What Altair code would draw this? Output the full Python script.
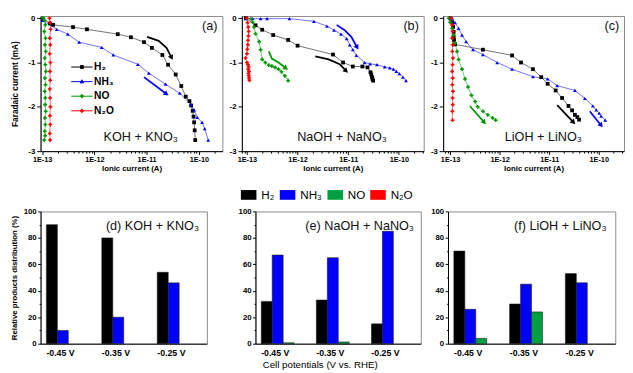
import altair as alt
import pandas as pd

FONT = "Liberation Sans"
PRODUCTS = ["H₂", "NH₃", "NO", "N₂O"]
SERIES_COLORS = ["#000000", "#0000ff", "#009900", "#ff0000"]
BAR_COLORS = ["#000000", "#0000ff", "#00a040", "#ff0000"]
MARKERS = ["square", "triangle-up", "cross", "cross"]
POTENTIALS = ["-0.45 V", "-0.35 V", "-0.25 V"]

# ---------------- (a) KOH + KNO3 : ionic current (A) / faradaic current (mA)
a_h2_I = [1.05e-13, 1.41e-13, 1.62e-13, 3.9e-13, 7.2e-13, 2.8e-12, 5.0e-12, 8.9e-12, 1.26e-11, 2.0e-11,
          2.57e-11, 3.6e-11, 4.6e-11, 5.6e-11, 6.6e-11, 7.1e-11, 7.6e-11, 7.9e-11, 8.1e-11, 8.3e-11, 8.5e-11]
a_h2_J = [-0.02, -0.12, -0.15, -0.20, -0.25, -0.36, -0.43, -0.54, -0.67, -0.83,
          -1.05, -1.27, -1.53, -1.77, -1.87, -1.97, -2.09, -2.22, -2.35, -2.53, -2.75]
a_nh3_I = [1.03e-13, 1.9e-13, 3.1e-13, 5.1e-13, 1.38e-12, 2.3e-12, 6.8e-12, 1.1e-11, 2.3e-11, 4.3e-11,
           7.1e-11, 8.1e-11, 9.3e-11, 1.15e-10, 1.29e-10, 1.51e-10]
a_nh3_J = [-0.05, -0.25, -0.36, -0.54, -0.66, -0.83, -1.04, -1.24, -1.49, -1.69,
           -1.95, -2.07, -2.24, -2.35, -2.49, -2.75]
a_no_I = [1.05e-13, 1.12e-13, 1.15e-13, 1.10e-13, 1.16e-13, 1.13e-13, 1.17e-13, 1.12e-13, 1.15e-13, 1.18e-13,
          1.13e-13, 1.16e-13, 1.12e-13, 1.15e-13, 1.14e-13, 1.17e-13, 1.13e-13, 1.15e-13, 1.12e-13, 1.14e-13, 1.10e-13]
a_no_J = [0.0, -0.05, -0.15, -0.30, -0.45, -0.60, -0.75, -0.90, -1.05, -1.20,
          -1.35, -1.50, -1.65, -1.80, -1.95, -2.10, -2.25, -2.40, -2.55, -2.65, -2.75]
a_n2o_I = [1.38e-13, 1.42e-13, 1.45e-13, 1.40e-13, 1.43e-13, 1.39e-13, 1.44e-13, 1.41e-13,
           1.43e-13, 1.40e-13, 1.42e-13, 1.44e-13, 1.41e-13, 1.43e-13, 1.40e-13, 1.42e-13]
a_n2o_J = [0.0, -0.1, -0.25, -0.45, -0.6, -0.8, -1.0, -1.2, -1.4, -1.6, -1.8, -2.0, -2.2, -2.4, -2.6, -2.75]

# ---------------- (b) NaOH + NaNO3
b_h2_I = [9.5e-14, 1.48e-13, 2.0e-13, 3.3e-13, 6.5e-13, 1.0e-12, 5.0e-12, 7.9e-12, 1.23e-11, 1.9e-11,
          2.4e-11, 2.75e-11, 2.85e-11, 2.95e-11, 3.0e-11, 3.1e-11]
b_h2_J = [0.0, -0.16, -0.26, -0.38, -0.49, -0.62, -0.82, -1.0, -1.09, -1.09,
          -1.11, -1.22, -1.27, -1.33, -1.37, -1.41]
b_nh3_I = [9.5e-14, 1.29e-13, 1.86e-13, 2.5e-13, 6.9e-13, 2.1e-12, 3.8e-12, 5.25e-12, 7.2e-12, 9.3e-12,
           1.07e-11, 1.23e-11, 1.45e-11, 2.1e-11, 2.7e-11, 3.7e-11, 5.25e-11, 6.6e-11, 7.8e-11, 8.9e-11,
           1.02e-10, 1.2e-10, 1.38e-10]
b_nh3_J = [-0.01, -0.01, -0.01, -0.01, -0.01, -0.07, -0.18, -0.27, -0.36, -0.46,
           -0.60, -0.71, -0.84, -1.0, -1.03, -1.05, -1.10, -1.12, -1.15, -1.20,
           -1.25, -1.33, -1.41]
b_no_I = [1.2e-13, 1.29e-13, 1.38e-13, 1.48e-13, 1.74e-13, 1.86e-13, 2.0e-13, 2.3e-13, 2.7e-13, 3.1e-13,
          3.6e-13, 4.2e-13, 4.8e-13, 5.6e-13, 6.5e-13]
b_no_J = [-0.01, -0.09, -0.2, -0.35, -0.53, -0.71, -0.93, -1.0, -1.06, -1.08,
          -1.11, -1.15, -1.21, -1.3, -1.41]
b_n2o_I = [1.0e-13, 1.03e-13, 1.06e-13, 1.08e-13, 1.07e-13, 1.05e-13, 1.04e-13, 1.02e-13, 1.0e-13, 9.4e-14,
           1.0e-13, 1.05e-13, 1.08e-13, 1.06e-13, 1.1e-13, 1.07e-13, 1.09e-13, 1.1e-13, 1.12e-13]
b_n2o_J = [0.0, -0.1, -0.2, -0.3, -0.4, -0.5, -0.6, -0.7, -0.8, -0.9,
           -1.0, -1.05, -1.1, -1.15, -1.2, -1.25, -1.3, -1.35, -1.4]

# ---------------- (c) LiOH + LiNO3
c_h2_I = [1.0e-13, 1.1e-13, 1.15e-13, 1.18e-13, 1.18e-13, 1.2e-13, 1.26e-13, 4.6e-13, 1.78e-12, 2.7e-12,
          4.7e-12, 6.9e-12, 9.3e-12, 1.35e-11, 1.82e-11, 2.45e-11, 2.9e-11, 3.3e-11, 3.7e-11, 4.0e-11]
c_h2_J = [0.0, -0.09, -0.2, -0.31, -0.42, -0.49, -0.59, -0.71, -0.84, -1.0,
          -1.15, -1.33, -1.48, -1.63, -1.8, -1.98, -2.08, -2.18, -2.23, -2.29]
c_nh3_I = [1.1e-13, 1.26e-13, 1.48e-13, 1.74e-13, 2.1e-13, 2.9e-13, 4.6e-13, 8.9e-13, 1.78e-12, 4.7e-12,
           9.3e-12, 1.45e-11, 3.3e-11, 5.25e-11, 7.6e-11, 8.9e-11, 1.02e-10, 1.12e-10, 1.35e-10]
c_nh3_J = [0.0, -0.1, -0.23, -0.38, -0.53, -0.71, -0.82, -1.0, -1.15, -1.32,
           -1.37, -1.52, -1.63, -1.81, -1.98, -2.07, -2.14, -2.21, -2.3]
c_no_I = [9.4e-14, 1.0e-13, 1.1e-13, 1.18e-13, 1.26e-13, 1.38e-13, 1.48e-13, 1.74e-13, 2.0e-13, 2.3e-13,
          2.7e-13, 3.2e-13, 3.6e-13, 4.6e-13, 5.75e-13, 7.2e-13, 8.3e-13]
c_no_J = [0.0, -0.09, -0.23, -0.38, -0.56, -0.75, -0.93, -1.15, -1.37, -1.55,
          -1.74, -1.88, -2.0, -2.1, -2.18, -2.25, -2.3]
c_n2o_I = [1.05e-13, 1.1e-13, 1.12e-13, 1.1e-13, 1.13e-13, 1.11e-13, 1.14e-13, 1.12e-13,
           1.1e-13, 1.13e-13, 1.11e-13, 1.14e-13, 1.12e-13, 1.13e-13, 1.11e-13, 1.12e-13]
c_n2o_J = [0.0, -0.15, -0.3, -0.45, -0.6, -0.75, -0.9, -1.05, -1.2, -1.35, -1.5, -1.65, -1.8, -1.95, -2.1, -2.3]

# ---------------- annotation arrows (colour, ionic current, faradaic current, head angle)
a_arrows = [("#000000", [1.02e-11, 1.7e-11, 2.4e-11, 3.0e-11], [-0.42, -0.51, -0.67, -0.89], 153),
            ("#0000ff", [8.9e-12, 2.4e-11], [-1.33, -1.71], 126)]
b_arrows = [("#000000", [2.24e-12, 4.1e-12, 6.8e-12, 9.1e-12], [-0.86, -0.93, -1.04, -1.19], 135),
            ("#0000ff", [5.9e-12, 8.5e-12, 1.15e-11, 1.5e-11], [-0.15, -0.27, -0.42, -0.66], 149),
            ("#009900", [2.7e-13, 3.1e-13, 4.2e-13, 5.9e-13], [-0.75, -0.91, -1.0, -1.13], 126)]
c_arrows = [("#000000", [1.45e-11, 3.1e-11], [-1.96, -2.35], 137),
            ("#0000ff", [6.6e-11, 1.12e-10], [-2.1, -2.42], 141),
            ("#009900", [2.5e-13, 4.9e-13], [-1.98, -2.35], 138)]

# ---------------- product distribution (%) at each potential
d_h2 = [90, 80, 54]
d_nh3 = [10, 20, 46]
d_no = [0, 0, 0]
d_n2o = [0, 0, 0]
e_h2 = [32, 33, 15]
e_nh3 = [67, 65, 85]
e_no = [0.7, 1.3, 0]
e_n2o = [0, 0, 0]
f_h2 = [70, 30, 53]
f_nh3 = [26, 45, 46]
f_no = [4, 24, 0]
f_n2o = [0, 0, 0]

# ======================================================================
DECADE = "abs(log(datum.value)/LN10 - round(log(datum.value)/LN10)) < 0.01"

# legend symbols of panel (a): a short line with the marker in its middle
SYM_PATHS = [
    "M-2.2,0H2.2M-0.3,-0.3H0.3V0.3H-0.3Z",
    "M-2.2,0H2.2M0,-0.38L0.36,0.26H-0.36Z",
    "M-2.2,0H2.2M-0.08,-0.35H0.08V-0.08H0.35V0.08H0.08V0.35H-0.08V0.08H-0.35V-0.08H-0.08Z",
    "M-2.2,0H2.2M-0.08,-0.35H0.08V-0.08H0.35V0.08H0.08V0.35H-0.08V0.08H-0.35V-0.08H-0.08Z",
]

TOP_LEGEND = alt.Legend(orient="none", legendX=37, legendY=47, title=None, direction="vertical",
                        symbolSize=100, labelOffset=7, rowPadding=4, labelFont=FONT,
                        labelFontSize=10.5, labelFontWeight="bold", labelColor="#000", padding=0,
                        symbolStrokeWidth=1, symbolOpacity=1)
BAR_LEGEND = alt.Legend(orient="none", legendX=206, legendY=176, direction="horizontal", title=None,
                        symbolType="M-1,-0.625H1V0.625H-1Z", symbolSize=256, symbolStrokeWidth=0,
                        symbolOpacity=1, labelOffset=5, columnPadding=5, labelFontSize=12,
                        labelFont=FONT, labelColor="#000", padding=0)


def log_ticks(lo, hi):
    out = []
    for e in range(-14, -8):
        for m in range(1, 10):
            v = m * 10.0 ** e
            if lo <= v <= hi:
                out.append(v)
    return out


def top_panel(series, arrows, domain, tag, salt, width, first):
    rows = []
    for prod, I, J in series:
        for k, (i, j) in enumerate(zip(I, J)):
            rows.append({"product": prod, "I": i, "J": j, "k": k})
    df = pd.DataFrame(rows)
    arows = []
    for n, (col, I, J, ang) in enumerate(arrows):
        for k, (i, j) in enumerate(zip(I, J)):
            arows.append({"arrow": n, "col": col, "I": i, "J": j, "k": k, "ang": ang,
                          "head": k == len(I) - 1})
    adf = pd.DataFrame(arows)

    xsc = alt.Scale(type="log", domain=domain, nice=False)
    ysc = alt.Scale(domain=[-3, 0.05], nice=False, zero=False)
    xaxis = alt.Axis(values=log_ticks(domain[0], domain[1]),
                     labelExpr="(" + DECADE + ") ? '1E' + round(log(datum.value)/LN10) : ''",
                     tickSize={"condition": {"test": DECADE, "value": 3.5}, "value": 2},
                     labelFontSize=7.5, labelPadding=1, labelOverlap=False,
                     title="Ionic current (A)", titleFontSize=8, titlePadding=2)
    yaxis = alt.Axis(values=[0, -1, -2, -3], labelExpr="'' + datum.value", tickSize=4,
                     labelPadding=2, labelFontSize=8,
                     title="Faradaic current (mA)" if first else None,
                     titleFontSize=8.5, titlePadding=9)
    X = alt.X("I:Q", scale=xsc, axis=xaxis)
    Y = alt.Y("J:Q", scale=ysc, axis=yaxis)
    sscale = alt.Scale(domain=PRODUCTS, range=SERIES_COLORS)
    leg = TOP_LEGEND if first else None

    base = alt.Chart(df)
    layers = [base.mark_line(strokeWidth=0.8, opacity=0.7).encode(
        x=X, y=Y, stroke=alt.Stroke("product:N", scale=sscale, legend=leg),
        detail="product:N", order="k:Q")]
    for prod, shp in zip(PRODUCTS, MARKERS):
        layers.append(base.transform_filter(alt.datum.product == prod).mark_point(
            filled=True, size=15, opacity=1, shape=shp).encode(
            x=X, y=Y, fill=alt.Fill("product:N", scale=sscale, legend=leg)))
    layers.append(alt.Chart(adf).mark_line(strokeWidth=1.8).encode(
        x=X, y=Y, color=alt.Color("col:N", scale=None), detail="arrow:N", order="k:Q"))
    layers.append(alt.Chart(adf).transform_filter("datum.head").mark_point(
        shape="triangle-up", filled=True, size=34, opacity=1).encode(
        x=X, y=Y, color=alt.Color("col:N", scale=None), angle=alt.Angle("ang:Q", scale=None)))
    layers.append(alt.Chart(pd.DataFrame({"t": [tag]})).mark_text(
        font=FONT, fontSize=13, align="right", baseline="middle", color="#111").encode(
        x=alt.value(width - 5), y=alt.value(10), text="t:N"))
    layers.append(alt.Chart(pd.DataFrame({"t": [salt]})).mark_text(
        font=FONT, fontSize=13, align="center", baseline="middle", color="#111").encode(
        x=alt.value(103), y=alt.value(125), text="t:N"))
    if first:
        # legend carrier: one point per product, outside the plotted range and clipped away
        ldf = pd.DataFrame({"product": PRODUCTS, "I": [1e-16] * 4, "J": [0.0] * 4})
        layers.append(alt.Chart(ldf).mark_point(clip=True, strokeWidth=1).encode(
            x=X, y=Y,
            fill=alt.Fill("product:N", scale=sscale, legend=leg),
            stroke=alt.Stroke("product:N", scale=sscale, legend=leg),
            shape=alt.Shape("product:N", scale=alt.Scale(domain=PRODUCTS, range=SYM_PATHS), legend=leg),
        ))
    return alt.layer(*layers).properties(width=width, height=139)


def bar_panel(h2, nh3, no, n2o, label, width, first, mid):
    rows = []
    for prod, vals in zip(PRODUCTS, [h2, nh3, no, n2o]):
        for pot, v in zip(POTENTIALS, vals):
            if v > 0:
                rows.append({"pot": pot, "product": prod, "pct": v})
    df = pd.DataFrame(rows)
    xaxis = alt.Axis(title="Cell potentials (V vs. RHE)" if mid else None, labelAngle=0, ticks=False,
                     labelPadding=5, labelFontSize=9, labelOffset=-8,
                     titleFontWeight="normal", titleFontSize=10, titlePadding=3, titleX=66)
    yaxis = alt.Axis(values=list(range(0, 101, 10)),
                     labelExpr="datum.value % 20 === 0 ? '' + datum.value : ''",
                     tickSize={"condition": {"test": "datum.value % 20 === 0", "value": 3}, "value": 1.5},
                     labelPadding=1.5, labelFontSize=8,
                     title="Relative products distribution (%)" if first else None,
                     titleFontSize=8, titlePadding=4.5)
    bars = alt.Chart(df).mark_bar(stroke="#1a1a1a", strokeWidth=0.6).encode(
        x=alt.X("pot:N", sort=POTENTIALS,
                scale=alt.Scale(domain=POTENTIALS, paddingInner=0.21, paddingOuter=0.105), axis=xaxis),
        xOffset=alt.XOffset("product:N", scale=alt.Scale(domain=PRODUCTS, paddingInner=0, paddingOuter=0)),
        y=alt.Y("pct:Q", scale=alt.Scale(domain=[0, 100], nice=False), axis=yaxis),
        color=alt.Color("product:N", scale=alt.Scale(domain=PRODUCTS, range=BAR_COLORS), legend=BAR_LEGEND),
    )
    tag_t = alt.Chart(pd.DataFrame({"t": [label]})).mark_text(
        font=FONT, fontSize=13, align="right", baseline="middle", color="#111").encode(
        x=alt.value(163), y=alt.value(15), text="t:N")
    return alt.layer(bars, tag_t).properties(width=width, height=136)


pa = top_panel([("H₂", a_h2_I, a_h2_J), ("NH₃", a_nh3_I, a_nh3_J), ("NO", a_no_I, a_no_J),
                ("N₂O", a_n2o_I, a_n2o_J)], a_arrows, [9.33e-14, 2.82e-10], "(a)", "KOH + KNO₃", 187, True)
pb = top_panel([("H₂", b_h2_I, b_h2_J), ("NH₃", b_nh3_I, b_nh3_J), ("NO", b_no_I, b_no_J),
                ("N₂O", b_n2o_I, b_n2o_J)], b_arrows, [7.94e-14, 3.09e-10], "(b)", "NaOH + NaNO₃", 187, False)
pc = top_panel([("H₂", c_h2_I, c_h2_J), ("NH₃", c_nh3_I, c_nh3_J), ("NO", c_no_I, c_no_J),
                ("N₂O", c_n2o_I, c_n2o_J)], c_arrows, [7.24e-14, 3.24e-10], "(c)", "LiOH + LiNO₃", 186, False)

pd_ = bar_panel(d_h2, d_nh3, d_no, d_n2o, "(d) KOH + KNO₃", 171, True, False)
pe = bar_panel(e_h2, e_nh3, e_no, e_n2o, "(e) NaOH + NaNO₃", 170, False, True)
pf = bar_panel(f_h2, f_nh3, f_no, f_n2o, "(f) LiOH + LiNO₃", 172, False, False)

IND = dict(fill="independent", stroke="independent", shape="independent")
row1 = alt.hconcat(pa, pb, pc, spacing=5).resolve_scale(**IND)
row2 = alt.hconcat(alt.hconcat(pd_, pe, spacing=30), pf, spacing=8)

chart = alt.vconcat(row1, row2, spacing=34).resolve_scale(**IND).properties(
    padding={"left": 1.5, "top": 0, "right": 0, "bottom": 0}
).configure_axis(
    labelFont=FONT, titleFont=FONT, labelFontWeight="bold", titleFontWeight="bold",
    labelColor="#000", titleColor="#000", domainColor="#000", tickColor="#000", grid=False
).configure_view(stroke="#888", strokeWidth=1).configure_text(font=FONT)

chart.save("out.html", embed_options={"renderer": "svg", "actions": False})
